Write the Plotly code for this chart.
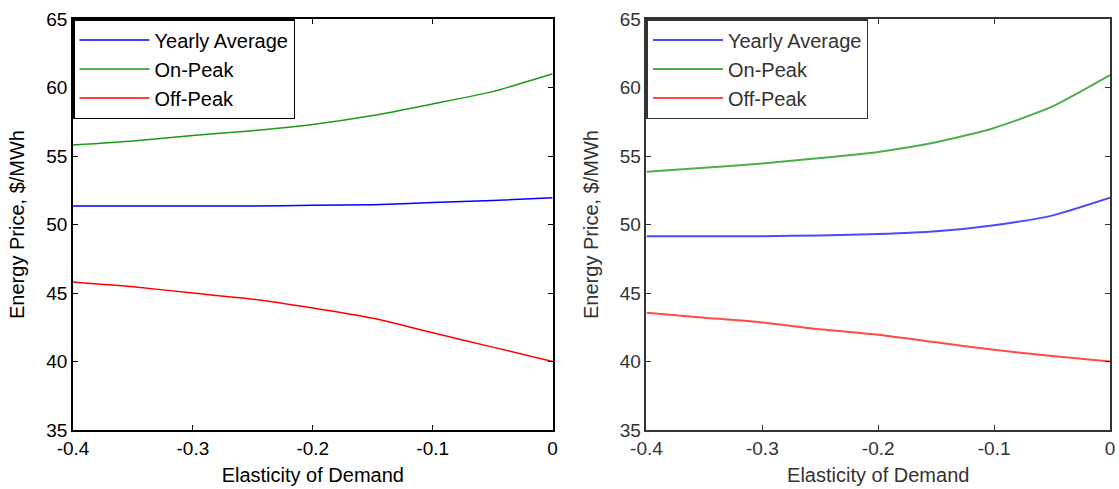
import plotly.graph_objects as go

elasticity = [-0.4, -0.35, -0.3, -0.25, -0.2, -0.15, -0.1, -0.05, 0.0]

# Left panel
left_yearly = [51.35, 51.35, 51.35, 51.35, 51.4, 51.45, 51.6, 51.75, 51.95]
left_onpeak = [55.8, 56.1, 56.5, 56.85, 57.3, 57.95, 58.8, 59.7, 61.0]
left_offpeak = [45.8, 45.45, 45.0, 44.55, 43.9, 43.15, 42.1, 41.05, 40.0]

# Right panel
right_yearly = [49.15, 49.15, 49.15, 49.2, 49.3, 49.5, 49.95, 50.65, 51.95]
right_onpeak = [53.85, 54.15, 54.45, 54.85, 55.3, 56.0, 57.05, 58.6, 60.9]
right_offpeak = [43.55, 43.2, 42.85, 42.35, 41.95, 41.4, 40.85, 40.4, 40.0]

series_names = ["Yearly Average", "On-Peak", "Off-Peak"]
x_ticks = [-0.4, -0.3, -0.2, -0.1, 0]
x_ticktext = ["-0.4", "-0.3", "-0.2", "-0.1", "0"]
y_ticks = [35, 40, 45, 50, 55, 60, 65]

left_colors = ["#0000ff", "#1a991a", "#ff0000"]
right_colors = ["#4a4aff", "#4caf4c", "#ff4a4a"]

FONT = "Liberation Sans, Arial, sans-serif"

fig = go.Figure()

for i, (name, ys) in enumerate(zip(series_names, [left_yearly, left_onpeak, left_offpeak])):
    fig.add_trace(go.Scatter(
        x=elasticity, y=ys, mode="lines", name=name,
        line=dict(color=left_colors[i], width=1.5, shape="spline", smoothing=0.6),
        xaxis="x", yaxis="y", legend="legend", legendgroup="l%d" % i,
    ))

for i, (name, ys) in enumerate(zip(series_names, [right_yearly, right_onpeak, right_offpeak])):
    fig.add_trace(go.Scatter(
        x=elasticity, y=ys, mode="lines", name=name,
        line=dict(color=right_colors[i], width=2, shape="spline", smoothing=0.6),
        xaxis="x2", yaxis="y2", legend="legend2", legendgroup="r%d" % i,
    ))

def xax(domain, anchor, color):
    return dict(
        domain=domain, anchor=anchor, range=[-0.4, 0],
        tickvals=x_ticks, ticktext=x_ticktext,
        ticks="inside", ticklen=5, tickcolor=color, tickwidth=1,
        showline=True, linecolor=color, linewidth=1.5, mirror="ticks",
        showgrid=False, zeroline=False,
        tickfont=dict(family=FONT, size=19, color=color),
        title=dict(text="Elasticity of Demand", font=dict(family=FONT, size=20, color=color), standoff=10),
    )

def yax(anchor, color):
    return dict(
        anchor=anchor, domain=[0, 1], range=[35, 65],
        tickvals=y_ticks,
        ticks="inside", ticklen=5, tickcolor=color, tickwidth=1,
        showline=True, linecolor=color, linewidth=1.5, mirror="ticks",
        showgrid=False, zeroline=False,
        tickfont=dict(family=FONT, size=19, color=color),
        title=dict(text="Energy Price, $/MWh", font=dict(family=FONT, size=20, color=color), standoff=16),
    )

legend_common = dict(
    xanchor="left", yanchor="top", bgcolor="white",
    borderwidth=1.5, itemwidth=70, tracegroupgap=0,
)

fig.update_layout(
    width=1119, height=489,
    margin=dict(l=73, r=4, t=19, b=59),
    paper_bgcolor="white", plot_bgcolor="white",
    xaxis=xax([0, 0.4625], "y", "#000000"),
    yaxis=yax("x", "#000000"),
    xaxis2=xax([0.5530, 1], "y2", "#333333"),
    yaxis2=yax("x2", "#333333"),
    legend=dict(x=0, y=1, bordercolor="#000000", font=dict(family=FONT, size=20, color="#000000"), **legend_common),
    legend2=dict(x=0.5530, y=1, bordercolor="#333333", font=dict(family=FONT, size=20, color="#333333"), **legend_common),
    showlegend=True,
)

fig.write_html("out.html")
